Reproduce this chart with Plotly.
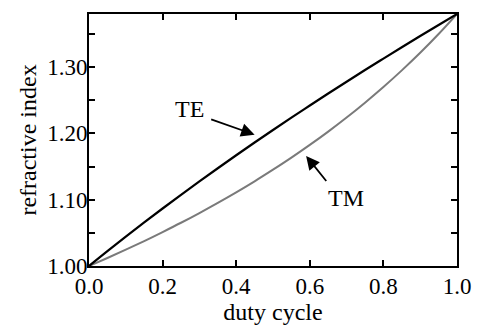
import plotly.graph_objects as go

duty_cycle = [0.00, 0.05, 0.10, 0.15, 0.20, 0.25, 0.30, 0.35, 0.40, 0.45, 0.50,
              0.55, 0.60, 0.65, 0.70, 0.75, 0.80, 0.85, 0.90, 0.95, 1.00]
te_index = [1.0000, 1.0224, 1.0442, 1.0657, 1.0867, 1.1073, 1.1275, 1.1474, 1.1670,
            1.1862, 1.2051, 1.2237, 1.2420, 1.2601, 1.2779, 1.2955, 1.3128, 1.3299,
            1.3468, 1.3635, 1.3800]
tm_index = [1.0000, 1.0121, 1.0246, 1.0376, 1.0512, 1.0652, 1.0799, 1.0952, 1.1111,
            1.1277, 1.1452, 1.1634, 1.1826, 1.2027, 1.2239, 1.2463, 1.2699, 1.2950,
            1.3215, 1.3498, 1.3800]
x_ticks = [0.0, 0.2, 0.4, 0.6, 0.8, 1.0]
x_ticktext = ["0.0", "0.2", "0.4", "0.6", "0.8", "1.0"]
y_ticks = [1.00, 1.05, 1.10, 1.15, 1.20, 1.25, 1.30, 1.35]
y_ticktext = ["1.00", "", "1.10", "", "1.20", "", "1.30", ""]

FONT = "Liberation Serif, Times New Roman, serif"

fig = go.Figure()
fig.add_trace(go.Scatter(x=duty_cycle, y=tm_index, mode="lines", name="TM",
                         line=dict(color="#7a7a7a", width=2, shape="spline")))
fig.add_trace(go.Scatter(x=duty_cycle, y=te_index, mode="lines", name="TE",
                         line=dict(color="#000000", width=2.2, shape="spline")))

fig.add_annotation(x=0.45, y=1.198, ax=0.328, ay=1.222, xref="x", yref="y",
                   axref="x", ayref="y", text="", showarrow=True,
                   arrowhead=2, arrowsize=1.5, arrowwidth=1.8, arrowcolor="black")
fig.add_annotation(x=0.272, y=1.236, xref="x", yref="y", text="TE", showarrow=False,
                   font=dict(family=FONT, size=24, color="black"))
fig.add_annotation(x=0.590, y=1.166, ax=0.648, ay=1.126, xref="x", yref="y",
                   axref="x", ayref="y", text="", showarrow=True,
                   arrowhead=2, arrowsize=1.5, arrowwidth=1.8, arrowcolor="black")
fig.add_annotation(x=0.698, y=1.103, xref="x", yref="y", text="TM", showarrow=False,
                   font=dict(family=FONT, size=24, color="black"))

axis_common = dict(showline=True, linecolor="black", linewidth=2, mirror="allticks",
                   ticks="inside", ticklen=6, tickwidth=1.5, tickcolor="black",
                   showgrid=False, zeroline=False,
                   tickfont=dict(family=FONT, size=23, color="black"))

fig.update_xaxes(range=[0, 1], tickvals=x_ticks, ticktext=x_ticktext,
                 title=dict(text="duty cycle", standoff=0,
                            font=dict(family=FONT, size=24, color="black")),
                 ticklabelstandoff=-2, **axis_common)
fig.update_yaxes(range=[1.0, 1.38], tickvals=y_ticks, ticktext=y_ticktext,
                 title=dict(text="refractive index", standoff=4,
                            font=dict(family=FONT, size=24, color="black")),
                 ticklabelstandoff=-5, **axis_common)

fig.update_layout(width=483, height=327, margin=dict(l=89, r=16, t=14, b=50),
                  plot_bgcolor="white", paper_bgcolor="white", showlegend=False)

fig.write_html("out.html")
